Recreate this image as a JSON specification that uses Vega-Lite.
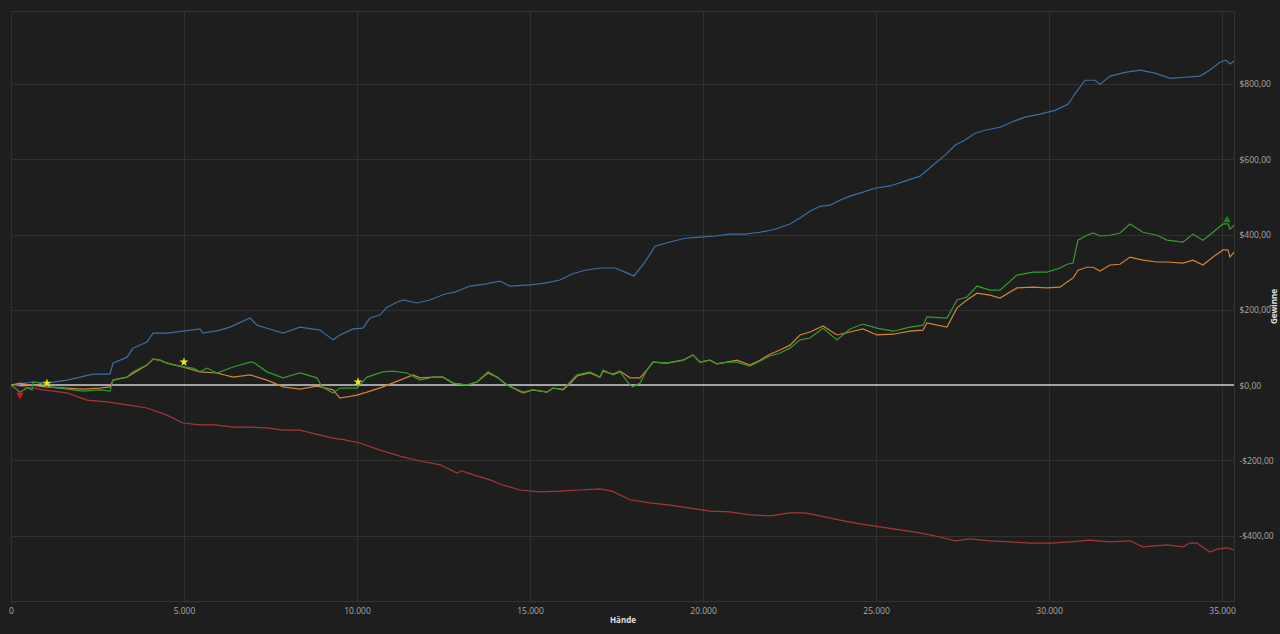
{
  "$schema": "https://vega.github.io/schema/vega-lite/v6.json",
  "autosize": "none",
  "padding": {"left": 11, "top": 11, "right": 46, "bottom": 33},
  "width": 1223,
  "height": 590,
  "background": "#1e1e1e",
  "config": {
    "font": "Open Sans",
    "locale": {"number": {"decimal": ",", "thousands": ".", "grouping": [3], "currency": ["$", ""], "minus": "-"}},
    "view": {"stroke": "#333333"},
    "axis": {
      "gridColor": "#313131",
      "gridWidth": 1,
      "domain": false,
      "ticks": false,
      "labelColor": "#a8a8a8",
      "labelFontSize": 8.5,
      "titleColor": "#e0e0e0",
      "titleFontSize": 8,
      "titleFontWeight": "bold"
    }
  },
  "datasets": {
    "kurven": [
      {"s": "Gewinn mit Showdown", "x": 0, "y": 0},
      {"s": "Gewinn mit Showdown", "x": 636, "y": 8},
      {"s": "Gewinn mit Showdown", "x": 1040, "y": 5},
      {"s": "Gewinn mit Showdown", "x": 1618, "y": 13},
      {"s": "Gewinn mit Showdown", "x": 1907, "y": 19},
      {"s": "Gewinn mit Showdown", "x": 2370, "y": 29},
      {"s": "Gewinn mit Showdown", "x": 2861, "y": 29},
      {"s": "Gewinn mit Showdown", "x": 2948, "y": 58},
      {"s": "Gewinn mit Showdown", "x": 3352, "y": 74},
      {"s": "Gewinn mit Showdown", "x": 3526, "y": 98},
      {"s": "Gewinn mit Showdown", "x": 3930, "y": 114},
      {"s": "Gewinn mit Showdown", "x": 4104, "y": 138},
      {"s": "Gewinn mit Showdown", "x": 4508, "y": 138},
      {"s": "Gewinn mit Showdown", "x": 4971, "y": 143},
      {"s": "Gewinn mit Showdown", "x": 5462, "y": 149},
      {"s": "Gewinn mit Showdown", "x": 5549, "y": 138},
      {"s": "Gewinn mit Showdown", "x": 6040, "y": 146},
      {"s": "Gewinn mit Showdown", "x": 6329, "y": 154},
      {"s": "Gewinn mit Showdown", "x": 6907, "y": 178},
      {"s": "Gewinn mit Showdown", "x": 7109, "y": 159},
      {"s": "Gewinn mit Showdown", "x": 7398, "y": 151},
      {"s": "Gewinn mit Showdown", "x": 7861, "y": 138},
      {"s": "Gewinn mit Showdown", "x": 8352, "y": 154},
      {"s": "Gewinn mit Showdown", "x": 8930, "y": 146},
      {"s": "Gewinn mit Showdown", "x": 9306, "y": 120},
      {"s": "Gewinn mit Showdown", "x": 9508, "y": 133},
      {"s": "Gewinn mit Showdown", "x": 9884, "y": 149},
      {"s": "Gewinn mit Showdown", "x": 10173, "y": 151},
      {"s": "Gewinn mit Showdown", "x": 10375, "y": 178},
      {"s": "Gewinn mit Showdown", "x": 10664, "y": 186},
      {"s": "Gewinn mit Showdown", "x": 10866, "y": 207},
      {"s": "Gewinn mit Showdown", "x": 11155, "y": 220},
      {"s": "Gewinn mit Showdown", "x": 11329, "y": 226},
      {"s": "Gewinn mit Showdown", "x": 11733, "y": 218},
      {"s": "Gewinn mit Showdown", "x": 12109, "y": 226},
      {"s": "Gewinn mit Showdown", "x": 12543, "y": 242},
      {"s": "Gewinn mit Showdown", "x": 12832, "y": 247},
      {"s": "Gewinn mit Showdown", "x": 13265, "y": 263},
      {"s": "Gewinn mit Showdown", "x": 13699, "y": 268},
      {"s": "Gewinn mit Showdown", "x": 14132, "y": 276},
      {"s": "Gewinn mit Showdown", "x": 14421, "y": 263},
      {"s": "Gewinn mit Showdown", "x": 15000, "y": 266},
      {"s": "Gewinn mit Showdown", "x": 15433, "y": 271},
      {"s": "Gewinn mit Showdown", "x": 15866, "y": 279},
      {"s": "Gewinn mit Showdown", "x": 16213, "y": 295},
      {"s": "Gewinn mit Showdown", "x": 16589, "y": 305},
      {"s": "Gewinn mit Showdown", "x": 17022, "y": 311},
      {"s": "Gewinn mit Showdown", "x": 17456, "y": 311},
      {"s": "Gewinn mit Showdown", "x": 17745, "y": 300},
      {"s": "Gewinn mit Showdown", "x": 18005, "y": 290},
      {"s": "Gewinn mit Showdown", "x": 18323, "y": 327},
      {"s": "Gewinn mit Showdown", "x": 18612, "y": 369},
      {"s": "Gewinn mit Showdown", "x": 19045, "y": 380},
      {"s": "Gewinn mit Showdown", "x": 19479, "y": 390},
      {"s": "Gewinn mit Showdown", "x": 19912, "y": 393},
      {"s": "Gewinn mit Showdown", "x": 20346, "y": 396},
      {"s": "Gewinn mit Showdown", "x": 20779, "y": 401},
      {"s": "Gewinn mit Showdown", "x": 21213, "y": 401},
      {"s": "Gewinn mit Showdown", "x": 21646, "y": 406},
      {"s": "Gewinn mit Showdown", "x": 22080, "y": 414},
      {"s": "Gewinn mit Showdown", "x": 22513, "y": 428},
      {"s": "Gewinn mit Showdown", "x": 22802, "y": 444},
      {"s": "Gewinn mit Showdown", "x": 23091, "y": 462},
      {"s": "Gewinn mit Showdown", "x": 23380, "y": 475},
      {"s": "Gewinn mit Showdown", "x": 23669, "y": 478},
      {"s": "Gewinn mit Showdown", "x": 23958, "y": 491},
      {"s": "Gewinn mit Showdown", "x": 24247, "y": 502},
      {"s": "Gewinn mit Showdown", "x": 24536, "y": 510},
      {"s": "Gewinn mit Showdown", "x": 24970, "y": 523},
      {"s": "Gewinn mit Showdown", "x": 25403, "y": 529},
      {"s": "Gewinn mit Showdown", "x": 25837, "y": 542},
      {"s": "Gewinn mit Showdown", "x": 26270, "y": 555},
      {"s": "Gewinn mit Showdown", "x": 26617, "y": 582},
      {"s": "Gewinn mit Showdown", "x": 26993, "y": 611},
      {"s": "Gewinn mit Showdown", "x": 27282, "y": 637},
      {"s": "Gewinn mit Showdown", "x": 27571, "y": 651},
      {"s": "Gewinn mit Showdown", "x": 27860, "y": 669},
      {"s": "Gewinn mit Showdown", "x": 28149, "y": 677},
      {"s": "Gewinn mit Showdown", "x": 28582, "y": 685},
      {"s": "Gewinn mit Showdown", "x": 28929, "y": 699},
      {"s": "Gewinn mit Showdown", "x": 29305, "y": 712},
      {"s": "Gewinn mit Showdown", "x": 29738, "y": 720},
      {"s": "Gewinn mit Showdown", "x": 30172, "y": 730},
      {"s": "Gewinn mit Showdown", "x": 30547, "y": 746},
      {"s": "Gewinn mit Showdown", "x": 30779, "y": 778},
      {"s": "Gewinn mit Showdown", "x": 31039, "y": 810},
      {"s": "Gewinn mit Showdown", "x": 31328, "y": 810},
      {"s": "Gewinn mit Showdown", "x": 31472, "y": 799},
      {"s": "Gewinn mit Showdown", "x": 31761, "y": 821},
      {"s": "Gewinn mit Showdown", "x": 32195, "y": 831},
      {"s": "Gewinn mit Showdown", "x": 32628, "y": 837},
      {"s": "Gewinn mit Showdown", "x": 33062, "y": 829},
      {"s": "Gewinn mit Showdown", "x": 33495, "y": 815},
      {"s": "Gewinn mit Showdown", "x": 33929, "y": 818},
      {"s": "Gewinn mit Showdown", "x": 34362, "y": 821},
      {"s": "Gewinn mit Showdown", "x": 34651, "y": 837},
      {"s": "Gewinn mit Showdown", "x": 34940, "y": 858},
      {"s": "Gewinn mit Showdown", "x": 35114, "y": 863},
      {"s": "Gewinn mit Showdown", "x": 35230, "y": 853},
      {"s": "Gewinn mit Showdown", "x": 35345, "y": 861},

      {"s": "Gewinn ohne Showdown", "x": 0, "y": 0},
      {"s": "Gewinn ohne Showdown", "x": 636, "y": -8},
      {"s": "Gewinn ohne Showdown", "x": 925, "y": -13},
      {"s": "Gewinn ohne Showdown", "x": 1618, "y": -21},
      {"s": "Gewinn ohne Showdown", "x": 2196, "y": -40},
      {"s": "Gewinn ohne Showdown", "x": 2774, "y": -45},
      {"s": "Gewinn ohne Showdown", "x": 3352, "y": -53},
      {"s": "Gewinn ohne Showdown", "x": 3930, "y": -61},
      {"s": "Gewinn ohne Showdown", "x": 4508, "y": -80},
      {"s": "Gewinn ohne Showdown", "x": 4971, "y": -101},
      {"s": "Gewinn ohne Showdown", "x": 5462, "y": -106},
      {"s": "Gewinn ohne Showdown", "x": 5896, "y": -106},
      {"s": "Gewinn ohne Showdown", "x": 6416, "y": -112},
      {"s": "Gewinn ohne Showdown", "x": 6907, "y": -112},
      {"s": "Gewinn ohne Showdown", "x": 7398, "y": -114},
      {"s": "Gewinn ohne Showdown", "x": 7861, "y": -120},
      {"s": "Gewinn ohne Showdown", "x": 8352, "y": -120},
      {"s": "Gewinn ohne Showdown", "x": 8930, "y": -133},
      {"s": "Gewinn ohne Showdown", "x": 9306, "y": -141},
      {"s": "Gewinn ohne Showdown", "x": 9653, "y": -146},
      {"s": "Gewinn ohne Showdown", "x": 10086, "y": -154},
      {"s": "Gewinn ohne Showdown", "x": 10664, "y": -173},
      {"s": "Gewinn ohne Showdown", "x": 11242, "y": -189},
      {"s": "Gewinn ohne Showdown", "x": 11820, "y": -202},
      {"s": "Gewinn ohne Showdown", "x": 12398, "y": -212},
      {"s": "Gewinn ohne Showdown", "x": 12889, "y": -234},
      {"s": "Gewinn ohne Showdown", "x": 13034, "y": -228},
      {"s": "Gewinn ohne Showdown", "x": 13207, "y": -234},
      {"s": "Gewinn ohne Showdown", "x": 13554, "y": -244},
      {"s": "Gewinn ohne Showdown", "x": 13843, "y": -252},
      {"s": "Gewinn ohne Showdown", "x": 14190, "y": -265},
      {"s": "Gewinn ohne Showdown", "x": 14710, "y": -279},
      {"s": "Gewinn ohne Showdown", "x": 15288, "y": -284},
      {"s": "Gewinn ohne Showdown", "x": 15866, "y": -282},
      {"s": "Gewinn ohne Showdown", "x": 16444, "y": -279},
      {"s": "Gewinn ohne Showdown", "x": 17022, "y": -276},
      {"s": "Gewinn ohne Showdown", "x": 17369, "y": -282},
      {"s": "Gewinn ohne Showdown", "x": 17889, "y": -305},
      {"s": "Gewinn ohne Showdown", "x": 18467, "y": -313},
      {"s": "Gewinn ohne Showdown", "x": 19045, "y": -319},
      {"s": "Gewinn ohne Showdown", "x": 19623, "y": -327},
      {"s": "Gewinn ohne Showdown", "x": 20201, "y": -335},
      {"s": "Gewinn ohne Showdown", "x": 20779, "y": -337},
      {"s": "Gewinn ohne Showdown", "x": 21357, "y": -345},
      {"s": "Gewinn ohne Showdown", "x": 21935, "y": -348},
      {"s": "Gewinn ohne Showdown", "x": 22513, "y": -340},
      {"s": "Gewinn ohne Showdown", "x": 22947, "y": -340},
      {"s": "Gewinn ohne Showdown", "x": 23380, "y": -348},
      {"s": "Gewinn ohne Showdown", "x": 23958, "y": -359},
      {"s": "Gewinn ohne Showdown", "x": 24536, "y": -369},
      {"s": "Gewinn ohne Showdown", "x": 25114, "y": -377},
      {"s": "Gewinn ohne Showdown", "x": 25692, "y": -385},
      {"s": "Gewinn ohne Showdown", "x": 26270, "y": -393},
      {"s": "Gewinn ohne Showdown", "x": 26848, "y": -404},
      {"s": "Gewinn ohne Showdown", "x": 27282, "y": -414},
      {"s": "Gewinn ohne Showdown", "x": 27715, "y": -409},
      {"s": "Gewinn ohne Showdown", "x": 28293, "y": -414},
      {"s": "Gewinn ohne Showdown", "x": 28871, "y": -417},
      {"s": "Gewinn ohne Showdown", "x": 29449, "y": -420},
      {"s": "Gewinn ohne Showdown", "x": 30027, "y": -420},
      {"s": "Gewinn ohne Showdown", "x": 30605, "y": -417},
      {"s": "Gewinn ohne Showdown", "x": 31183, "y": -412},
      {"s": "Gewinn ohne Showdown", "x": 31761, "y": -417},
      {"s": "Gewinn ohne Showdown", "x": 32339, "y": -414},
      {"s": "Gewinn ohne Showdown", "x": 32715, "y": -430},
      {"s": "Gewinn ohne Showdown", "x": 33408, "y": -425},
      {"s": "Gewinn ohne Showdown", "x": 33871, "y": -430},
      {"s": "Gewinn ohne Showdown", "x": 34073, "y": -420},
      {"s": "Gewinn ohne Showdown", "x": 34275, "y": -420},
      {"s": "Gewinn ohne Showdown", "x": 34651, "y": -444},
      {"s": "Gewinn ohne Showdown", "x": 34853, "y": -436},
      {"s": "Gewinn ohne Showdown", "x": 35142, "y": -433},
      {"s": "Gewinn ohne Showdown", "x": 35345, "y": -438},

      {"s": "All-in EV", "x": 0, "y": 0},
      {"s": "All-in EV", "x": 260, "y": 5},
      {"s": "All-in EV", "x": 549, "y": 0},
      {"s": "All-in EV", "x": 983, "y": -5},
      {"s": "All-in EV", "x": 1618, "y": -8},
      {"s": "All-in EV", "x": 2081, "y": -11},
      {"s": "All-in EV", "x": 2572, "y": -8},
      {"s": "All-in EV", "x": 2861, "y": -5},
      {"s": "All-in EV", "x": 2948, "y": 13},
      {"s": "All-in EV", "x": 3352, "y": 21},
      {"s": "All-in EV", "x": 3930, "y": 53},
      {"s": "All-in EV", "x": 4104, "y": 69},
      {"s": "All-in EV", "x": 4306, "y": 66},
      {"s": "All-in EV", "x": 4508, "y": 58},
      {"s": "All-in EV", "x": 4971, "y": 48},
      {"s": "All-in EV", "x": 5462, "y": 35},
      {"s": "All-in EV", "x": 5953, "y": 32},
      {"s": "All-in EV", "x": 6416, "y": 21},
      {"s": "All-in EV", "x": 6907, "y": 27},
      {"s": "All-in EV", "x": 7398, "y": 13},
      {"s": "All-in EV", "x": 7861, "y": -5},
      {"s": "All-in EV", "x": 8352, "y": -11},
      {"s": "All-in EV", "x": 8843, "y": -3},
      {"s": "All-in EV", "x": 9306, "y": -13},
      {"s": "All-in EV", "x": 9508, "y": -35},
      {"s": "All-in EV", "x": 9999, "y": -27},
      {"s": "All-in EV", "x": 10288, "y": -19},
      {"s": "All-in EV", "x": 10751, "y": -5},
      {"s": "All-in EV", "x": 11242, "y": 13},
      {"s": "All-in EV", "x": 11618, "y": 27},
      {"s": "All-in EV", "x": 11820, "y": 19},
      {"s": "All-in EV", "x": 12196, "y": 21},
      {"s": "All-in EV", "x": 12485, "y": 21},
      {"s": "All-in EV", "x": 12774, "y": 5},
      {"s": "All-in EV", "x": 13178, "y": 0},
      {"s": "All-in EV", "x": 13467, "y": 8},
      {"s": "All-in EV", "x": 13785, "y": 32},
      {"s": "All-in EV", "x": 14045, "y": 21},
      {"s": "All-in EV", "x": 14334, "y": 0},
      {"s": "All-in EV", "x": 14797, "y": -21},
      {"s": "All-in EV", "x": 15086, "y": -13},
      {"s": "All-in EV", "x": 15490, "y": -19},
      {"s": "All-in EV", "x": 15664, "y": -8},
      {"s": "All-in EV", "x": 15953, "y": -13},
      {"s": "All-in EV", "x": 16155, "y": 3},
      {"s": "All-in EV", "x": 16357, "y": 24},
      {"s": "All-in EV", "x": 16733, "y": 32},
      {"s": "All-in EV", "x": 17022, "y": 21},
      {"s": "All-in EV", "x": 17109, "y": 37},
      {"s": "All-in EV", "x": 17398, "y": 29},
      {"s": "All-in EV", "x": 17600, "y": 37},
      {"s": "All-in EV", "x": 17889, "y": 19},
      {"s": "All-in EV", "x": 18178, "y": 19},
      {"s": "All-in EV", "x": 18380, "y": 40},
      {"s": "All-in EV", "x": 18554, "y": 61},
      {"s": "All-in EV", "x": 18958, "y": 58},
      {"s": "All-in EV", "x": 19421, "y": 66},
      {"s": "All-in EV", "x": 19710, "y": 80},
      {"s": "All-in EV", "x": 19912, "y": 61},
      {"s": "All-in EV", "x": 20201, "y": 66},
      {"s": "All-in EV", "x": 20403, "y": 56},
      {"s": "All-in EV", "x": 20692, "y": 61},
      {"s": "All-in EV", "x": 20981, "y": 66},
      {"s": "All-in EV", "x": 21357, "y": 53},
      {"s": "All-in EV", "x": 21646, "y": 66},
      {"s": "All-in EV", "x": 21935, "y": 82},
      {"s": "All-in EV", "x": 22224, "y": 93},
      {"s": "All-in EV", "x": 22513, "y": 106},
      {"s": "All-in EV", "x": 22802, "y": 133},
      {"s": "All-in EV", "x": 23091, "y": 141},
      {"s": "All-in EV", "x": 23467, "y": 157},
      {"s": "All-in EV", "x": 23871, "y": 133},
      {"s": "All-in EV", "x": 24247, "y": 141},
      {"s": "All-in EV", "x": 24623, "y": 149},
      {"s": "All-in EV", "x": 25027, "y": 133},
      {"s": "All-in EV", "x": 25490, "y": 135},
      {"s": "All-in EV", "x": 25981, "y": 143},
      {"s": "All-in EV", "x": 26357, "y": 146},
      {"s": "All-in EV", "x": 26472, "y": 165},
      {"s": "All-in EV", "x": 27050, "y": 154},
      {"s": "All-in EV", "x": 27339, "y": 205},
      {"s": "All-in EV", "x": 27628, "y": 226},
      {"s": "All-in EV", "x": 27917, "y": 244},
      {"s": "All-in EV", "x": 28293, "y": 239},
      {"s": "All-in EV", "x": 28582, "y": 231},
      {"s": "All-in EV", "x": 29073, "y": 258},
      {"s": "All-in EV", "x": 29536, "y": 260},
      {"s": "All-in EV", "x": 29940, "y": 258},
      {"s": "All-in EV", "x": 30316, "y": 260},
      {"s": "All-in EV", "x": 30518, "y": 274},
      {"s": "All-in EV", "x": 30692, "y": 284},
      {"s": "All-in EV", "x": 30836, "y": 305},
      {"s": "All-in EV", "x": 31096, "y": 313},
      {"s": "All-in EV", "x": 31270, "y": 313},
      {"s": "All-in EV", "x": 31472, "y": 303},
      {"s": "All-in EV", "x": 31761, "y": 319},
      {"s": "All-in EV", "x": 32050, "y": 321},
      {"s": "All-in EV", "x": 32339, "y": 340},
      {"s": "All-in EV", "x": 32715, "y": 332},
      {"s": "All-in EV", "x": 33119, "y": 327},
      {"s": "All-in EV", "x": 33408, "y": 327},
      {"s": "All-in EV", "x": 33871, "y": 324},
      {"s": "All-in EV", "x": 34160, "y": 332},
      {"s": "All-in EV", "x": 34449, "y": 319},
      {"s": "All-in EV", "x": 34738, "y": 340},
      {"s": "All-in EV", "x": 35027, "y": 359},
      {"s": "All-in EV", "x": 35171, "y": 359},
      {"s": "All-in EV", "x": 35230, "y": 340},
      {"s": "All-in EV", "x": 35345, "y": 353},

      {"s": "Gewinn", "x": 0, "y": 0},
      {"s": "Gewinn", "x": 116, "y": -8},
      {"s": "Gewinn", "x": 260, "y": -19},
      {"s": "Gewinn", "x": 462, "y": -8},
      {"s": "Gewinn", "x": 607, "y": -13},
      {"s": "Gewinn", "x": 636, "y": 8},
      {"s": "Gewinn", "x": 838, "y": 5},
      {"s": "Gewinn", "x": 1127, "y": -5},
      {"s": "Gewinn", "x": 1618, "y": -11},
      {"s": "Gewinn", "x": 2081, "y": -16},
      {"s": "Gewinn", "x": 2572, "y": -13},
      {"s": "Gewinn", "x": 2861, "y": -16},
      {"s": "Gewinn", "x": 2948, "y": 13},
      {"s": "Gewinn", "x": 3352, "y": 21},
      {"s": "Gewinn", "x": 3526, "y": 35},
      {"s": "Gewinn", "x": 3930, "y": 53},
      {"s": "Gewinn", "x": 4104, "y": 69},
      {"s": "Gewinn", "x": 4306, "y": 66},
      {"s": "Gewinn", "x": 4508, "y": 58},
      {"s": "Gewinn", "x": 4971, "y": 48},
      {"s": "Gewinn", "x": 5260, "y": 45},
      {"s": "Gewinn", "x": 5462, "y": 35},
      {"s": "Gewinn", "x": 5664, "y": 45},
      {"s": "Gewinn", "x": 5953, "y": 32},
      {"s": "Gewinn", "x": 6416, "y": 48},
      {"s": "Gewinn", "x": 6907, "y": 61},
      {"s": "Gewinn", "x": 6994, "y": 61},
      {"s": "Gewinn", "x": 7398, "y": 35},
      {"s": "Gewinn", "x": 7861, "y": 19},
      {"s": "Gewinn", "x": 8352, "y": 32},
      {"s": "Gewinn", "x": 8843, "y": 19},
      {"s": "Gewinn", "x": 8988, "y": -5},
      {"s": "Gewinn", "x": 9306, "y": -21},
      {"s": "Gewinn", "x": 9508, "y": -8},
      {"s": "Gewinn", "x": 9999, "y": -8},
      {"s": "Gewinn", "x": 10288, "y": 21},
      {"s": "Gewinn", "x": 10751, "y": 35},
      {"s": "Gewinn", "x": 11040, "y": 37},
      {"s": "Gewinn", "x": 11444, "y": 32},
      {"s": "Gewinn", "x": 11820, "y": 13},
      {"s": "Gewinn", "x": 12196, "y": 21},
      {"s": "Gewinn", "x": 12485, "y": 21},
      {"s": "Gewinn", "x": 12774, "y": 5},
      {"s": "Gewinn", "x": 13178, "y": 0},
      {"s": "Gewinn", "x": 13467, "y": 8},
      {"s": "Gewinn", "x": 13785, "y": 35},
      {"s": "Gewinn", "x": 14045, "y": 21},
      {"s": "Gewinn", "x": 14334, "y": 0},
      {"s": "Gewinn", "x": 14797, "y": -19},
      {"s": "Gewinn", "x": 15086, "y": -13},
      {"s": "Gewinn", "x": 15490, "y": -19},
      {"s": "Gewinn", "x": 15664, "y": -8},
      {"s": "Gewinn", "x": 15953, "y": -11},
      {"s": "Gewinn", "x": 16155, "y": 8},
      {"s": "Gewinn", "x": 16357, "y": 27},
      {"s": "Gewinn", "x": 16733, "y": 35},
      {"s": "Gewinn", "x": 17022, "y": 21},
      {"s": "Gewinn", "x": 17109, "y": 40},
      {"s": "Gewinn", "x": 17398, "y": 27},
      {"s": "Gewinn", "x": 17600, "y": 35},
      {"s": "Gewinn", "x": 17889, "y": 0},
      {"s": "Gewinn", "x": 17976, "y": -5},
      {"s": "Gewinn", "x": 18178, "y": 5},
      {"s": "Gewinn", "x": 18380, "y": 40},
      {"s": "Gewinn", "x": 18554, "y": 61},
      {"s": "Gewinn", "x": 18958, "y": 58},
      {"s": "Gewinn", "x": 19421, "y": 66},
      {"s": "Gewinn", "x": 19710, "y": 80},
      {"s": "Gewinn", "x": 19912, "y": 61},
      {"s": "Gewinn", "x": 20201, "y": 66},
      {"s": "Gewinn", "x": 20403, "y": 56},
      {"s": "Gewinn", "x": 20692, "y": 61},
      {"s": "Gewinn", "x": 20981, "y": 61},
      {"s": "Gewinn", "x": 21357, "y": 50},
      {"s": "Gewinn", "x": 21646, "y": 64},
      {"s": "Gewinn", "x": 21935, "y": 77},
      {"s": "Gewinn", "x": 22224, "y": 85},
      {"s": "Gewinn", "x": 22513, "y": 98},
      {"s": "Gewinn", "x": 22802, "y": 120},
      {"s": "Gewinn", "x": 23091, "y": 125},
      {"s": "Gewinn", "x": 23467, "y": 151},
      {"s": "Gewinn", "x": 23871, "y": 120},
      {"s": "Gewinn", "x": 24247, "y": 149},
      {"s": "Gewinn", "x": 24623, "y": 162},
      {"s": "Gewinn", "x": 25027, "y": 151},
      {"s": "Gewinn", "x": 25490, "y": 143},
      {"s": "Gewinn", "x": 25981, "y": 154},
      {"s": "Gewinn", "x": 26357, "y": 159},
      {"s": "Gewinn", "x": 26472, "y": 181},
      {"s": "Gewinn", "x": 27050, "y": 178},
      {"s": "Gewinn", "x": 27339, "y": 226},
      {"s": "Gewinn", "x": 27628, "y": 234},
      {"s": "Gewinn", "x": 27917, "y": 263},
      {"s": "Gewinn", "x": 28293, "y": 252},
      {"s": "Gewinn", "x": 28582, "y": 252},
      {"s": "Gewinn", "x": 29073, "y": 292},
      {"s": "Gewinn", "x": 29536, "y": 300},
      {"s": "Gewinn", "x": 29940, "y": 300},
      {"s": "Gewinn", "x": 30316, "y": 311},
      {"s": "Gewinn", "x": 30518, "y": 321},
      {"s": "Gewinn", "x": 30692, "y": 324},
      {"s": "Gewinn", "x": 30836, "y": 385},
      {"s": "Gewinn", "x": 31096, "y": 398},
      {"s": "Gewinn", "x": 31270, "y": 404},
      {"s": "Gewinn", "x": 31472, "y": 396},
      {"s": "Gewinn", "x": 31761, "y": 398},
      {"s": "Gewinn", "x": 32050, "y": 404},
      {"s": "Gewinn", "x": 32339, "y": 428},
      {"s": "Gewinn", "x": 32715, "y": 406},
      {"s": "Gewinn", "x": 33119, "y": 398},
      {"s": "Gewinn", "x": 33408, "y": 385},
      {"s": "Gewinn", "x": 33871, "y": 380},
      {"s": "Gewinn", "x": 34160, "y": 401},
      {"s": "Gewinn", "x": 34449, "y": 385},
      {"s": "Gewinn", "x": 34738, "y": 406},
      {"s": "Gewinn", "x": 35027, "y": 428},
      {"s": "Gewinn", "x": 35171, "y": 428},
      {"s": "Gewinn", "x": 35230, "y": 414},
      {"s": "Gewinn", "x": 35345, "y": 425}
    ],
    "sterne": [
      {"x": 1040, "y": 5},
      {"x": 5000, "y": 61},
      {"x": 10030, "y": 8}
    ],
    "minimum": [{"x": 260, "y": -29}],
    "maximum": [{"x": 35143, "y": 441}]
  },
  "encoding": {
    "x": {
      "field": "x",
      "type": "quantitative",
      "title": "Hände",
      "scale": {"domain": [0, 35345], "nice": false},
      "axis": {
        "values": [0, 5000, 10000, 15000, 20000, 25000, 30000, 35000],
        "format": ",d",
        "labelPadding": 5,
        "titlePadding": 2,
        "labelFlush": false
      }
    },
    "y": {
      "field": "y",
      "type": "quantitative",
      "title": "Gewinne",
      "scale": {"domain": [-574, 994], "nice": false, "zero": false},
      "axis": {
        "orient": "right",
        "values": [-400, -200, 0, 200, 400, 600, 800],
        "format": "$,.2f",
        "labelPadding": 5,
        "titlePadding": 5,
        "titleAngle": 270
      }
    }
  },
  "layer": [
    {
      "data": {"values": [{"y": 0}]},
      "mark": {"type": "rule", "color": "#cfcfcf", "strokeWidth": 1.4},
      "encoding": {"x": null}
    },
    {
      "data": {"name": "kurven"},
      "mark": {"type": "line", "strokeWidth": 1.2, "interpolate": "linear"},
      "encoding": {
        "color": {
          "field": "s",
          "type": "nominal",
          "legend": null,
          "scale": {
            "domain": ["Gewinn mit Showdown", "Gewinn ohne Showdown", "All-in EV", "Gewinn"],
            "range": ["#3b6fa4", "#a53636", "#d18536", "#389a2e"]
          }
        }
      }
    },
    {
      "data": {"name": "sterne"},
      "mark": {
        "type": "point",
        "shape": "M0,-1L0.2245,-0.309L0.9511,-0.309L0.3633,0.118L0.5878,0.809L0,0.382L-0.5878,0.809L-0.3633,0.118L-0.9511,-0.309L-0.2245,-0.309Z",
        "filled": true,
        "color": "#f2e21a",
        "opacity": 1,
        "size": 90
      }
    },
    {
      "data": {"name": "minimum"},
      "mark": {"type": "point", "shape": "triangle-down", "filled": true, "opacity": 1, "size": 55, "color": "#e01010"}
    },
    {
      "data": {"name": "maximum"},
      "mark": {"type": "point", "shape": "triangle-up", "filled": true, "opacity": 1, "size": 55, "color": "#118a11"}
    }
  ]
}
